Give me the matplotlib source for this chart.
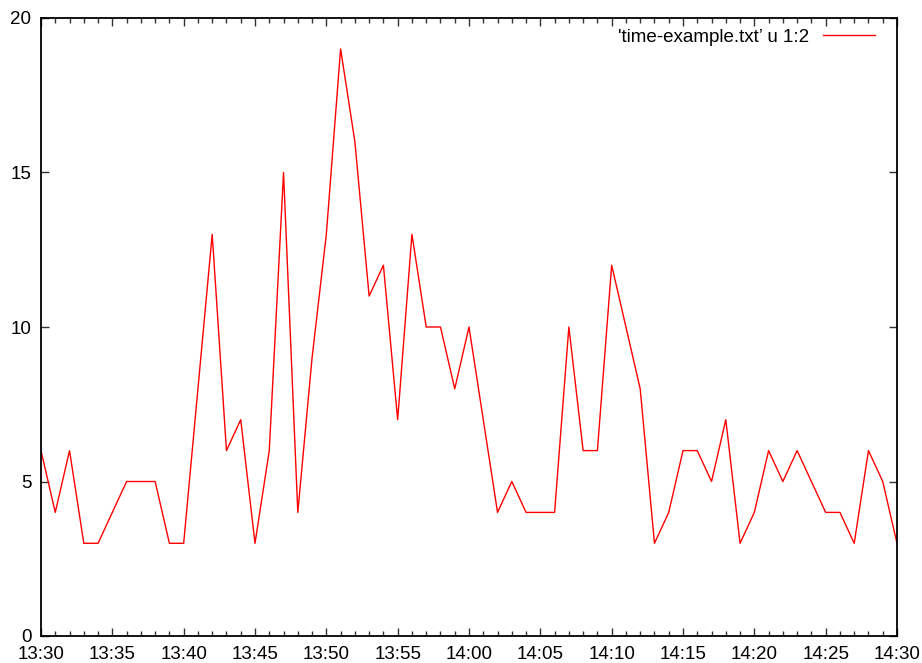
import matplotlib
matplotlib.use("Agg")
import matplotlib.pyplot as plt
import matplotlib.dates as mdates
import pandas as pd

plt.rcParams['font.family'] = ['Liberation Sans', 'DejaVu Sans']

start_time = "2000-01-01 13:30"
values = [6, 4, 6, 3, 3, 4, 5, 5, 5, 3, 3, 8, 13, 6, 7, 3, 6, 15, 4, 9,
          13, 19, 16, 11, 12, 7, 13, 10, 10, 8, 10, 7, 4, 5, 4, 4, 4, 10, 6, 6,
          12, 10, 8, 3, 4, 6, 6, 5, 7, 3, 4, 6, 5, 6, 5, 4, 4, 3, 6, 5, 3]
times = pd.date_range(start=start_time, periods=len(values), freq="1min")
legend_label = "'time-example.txt\u2019 u 1:2"
y_ticks = [0, 5, 10, 15, 20]

fig = plt.figure(figsize=(9.22, 6.63), dpi=100)
ax = fig.add_axes([41/922, 1-636/663, (897-41)/922, (636-18)/663])

ax.plot(times, values, color='#ff0000', lw=1.0, label=legend_label)

ax.set_xlim(times[0], times[-1])
ax.set_ylim(0, 20)
ax.set_yticks(y_ticks)
ax.xaxis.set_major_locator(mdates.MinuteLocator(byminute=range(0, 60, 5)))
ax.xaxis.set_minor_locator(mdates.MinuteLocator())
ax.xaxis.set_major_formatter(mdates.DateFormatter('%H:%M'))

for s in ax.spines.values():
    s.set_linewidth(1.3)
    s.set_color('black')

ax.tick_params(which='major', direction='in', length=6, width=1.0, color='#333333',
               top=True, right=True, labelsize=13.5, pad=7)
ax.tick_params(which='minor', direction='in', length=3.5, width=1.0, color='#333333',
               top=True, right=False)
ax.tick_params(axis='y', which='minor', left=False, right=False)

leg = ax.legend(loc='center right', bbox_to_anchor=((875-41)/856, (636-37)/618),
                markerfirst=False, frameon=False, fontsize=13.5, handlelength=2.8,
                handletextpad=0.7, borderpad=0, borderaxespad=0)

fig.savefig('out.png', dpi=100)
